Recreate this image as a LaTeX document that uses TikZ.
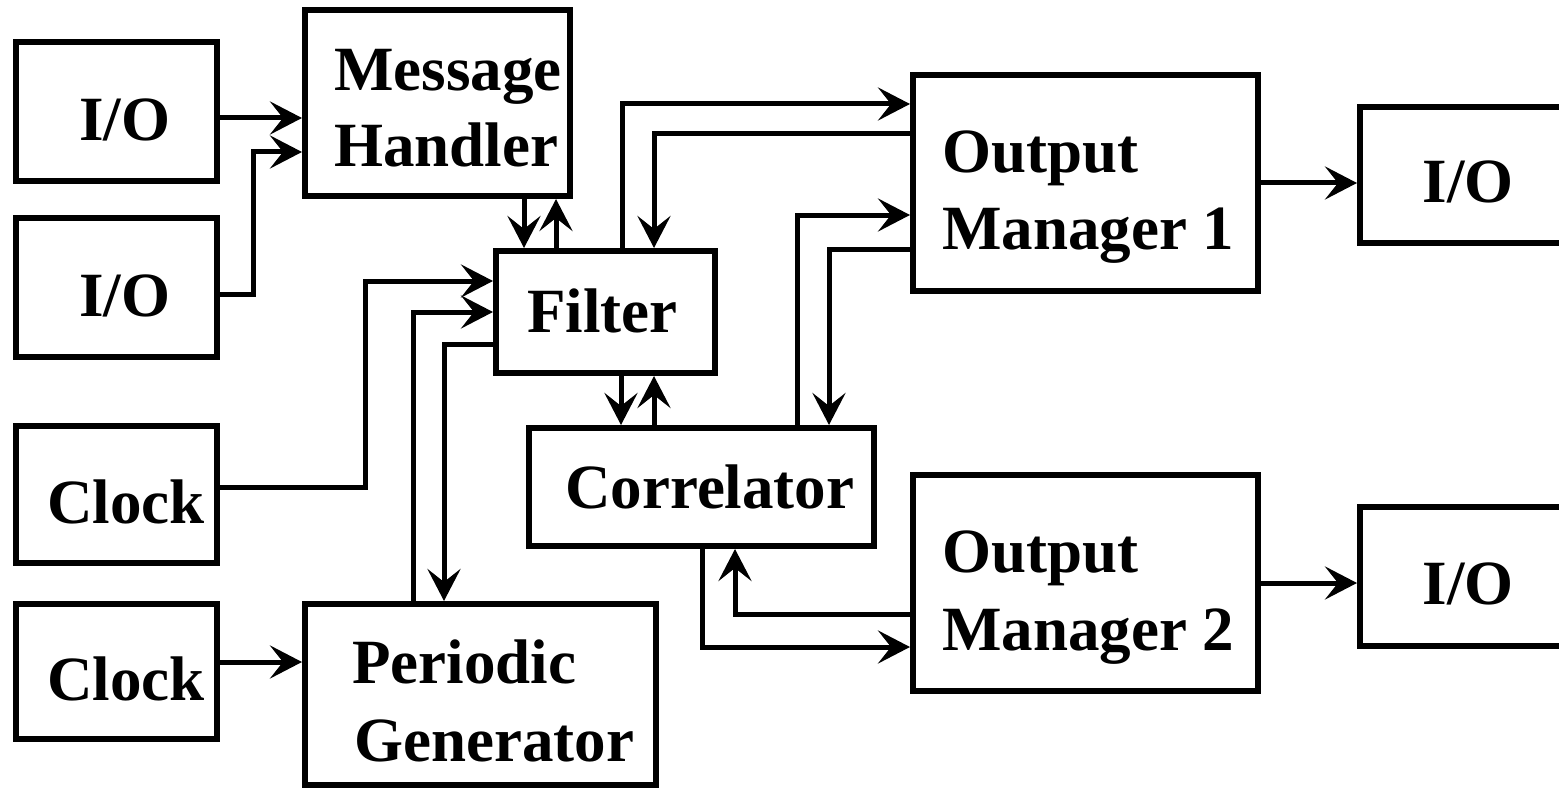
\documentclass[tikz,border=0pt]{standalone}
\usepackage{fontspec}
\setmainfont{Liberation Serif}
\usetikzlibrary{arrows.meta,fit}
\begin{document}
\begin{tikzpicture}[x=1pt,y=-1pt,
  box/.style={draw, line width=6pt, inner sep=0pt, fit={#1}},
  lbl/.style={anchor=base west, inner sep=0pt, font=\fontsize{63}{63}\selectfont\bfseries},
  lblc/.style={lbl, anchor=base},
  arr/.style={line width=5pt, -{Stealth[length=32pt,width=33pt,inset=13pt]}},
]
\useasboundingbox (0,0) rectangle (1559,789);
\clip (0,0) rectangle (1559,789);

% blocks
\node[box={(16,42) (217,181)}]    (io1)    {};
\node[box={(16,218) (217,357)}]   (io2)    {};
\node[box={(16,426) (217,563)}]   (clk1)   {};
\node[box={(16,604) (217,739)}]   (clk2)   {};
\node[box={(305,10) (570,196)}]   (mh)     {};
\node[box={(496,251) (715,373)}]  (filt)   {};
\node[box={(529,428) (874,546)}]  (corr)   {};
\node[box={(305,604) (656,785)}]  (pg)     {};
\node[box={(913,75) (1258,291)}]  (om1)    {};
\node[box={(913,475) (1258,691)}] (om2)    {};
\node[box={(1360,107) (1620,243)}] (io3)   {};
\node[box={(1360,507) (1620,646)}] (io4)   {};

% block captions
\node[lblc] (t-io1)  at (125,141) {I/O};
\node[lblc] (t-io2)  at (125,316) {I/O};
\node[lbl]  (t-clk1) at (47,523)  {Clock};
\node[lbl]  (t-clk2) at (47,700)  {Clock};
\node[lbl]  (t-mh1)  at (334,91)  {Message};
\node[lbl]  (t-mh2)  at (334,167) {Handler};
\node[lbl]  (t-filt) at (527,332) {Filter};
\node[lbl]  (t-corr) at (565,508) {Correlator};
\node[lbl]  (t-pg1)  at (352,683) {Periodic};
\node[lbl]  (t-pg2)  at (354,761) {Generator};
\node[lbl]  (t-om1a) at (942,173) {Output};
\node[lbl]  (t-om1b) at (942,249) {Manager 1};
\node[lbl]  (t-om2a) at (942,572) {Output};
\node[lbl]  (t-om2b) at (942,650) {Manager 2};
\node[lblc] (t-io3)  at (1468,203) {I/O};
\node[lblc] (t-io4)  at (1468,604) {I/O};

% message flow
\draw[arr] (io1.east |- 0,118) -- (mh.west |- 0,118);
\draw[arr] (io2.east |- 0,294) -| (253,152) -- (mh.west |- 0,152);
\draw[arr] (mh.south -| 524,0) -- (filt.north -| 524,0);
\draw[arr] (filt.north -| 556,0) -- (mh.south -| 556,0);
\draw[arr] (clk1.east |- 0,487) -| (365,281) -- (filt.west |- 0,281);
\draw[arr] (pg.north -| 413,0) |- (filt.west |- 0,312);
\draw[arr] (filt.west |- 0,344) -| (pg.north -| 444,0);
\draw[arr] (filt.south -| 621,0) -- (corr.north -| 621,0);
\draw[arr] (corr.north -| 654,0) -- (filt.south -| 654,0);
\draw[arr] (filt.north -| 622,0) |- (om1.west |- 0,104);
\draw[arr] (om1.west |- 0,134) -| (filt.north -| 654,0);
\draw[arr] (corr.north -| 797,0) |- (om1.west |- 0,215);
\draw[arr] (om1.west |- 0,249) -| (corr.north -| 829,0);
\draw[arr] (corr.south -| 702,0) |- (om2.west |- 0,647);
\draw[arr] (om2.west |- 0,614) -| (corr.south -| 735,0);
\draw[arr] (clk2.east |- 0,662) -- (pg.west |- 0,662);
\draw[arr] (om1.east |- 0,183) -- (io3.west |- 0,183);
\draw[arr] (om2.east |- 0,583) -- (io4.west |- 0,583);
\end{tikzpicture}
\end{document}
